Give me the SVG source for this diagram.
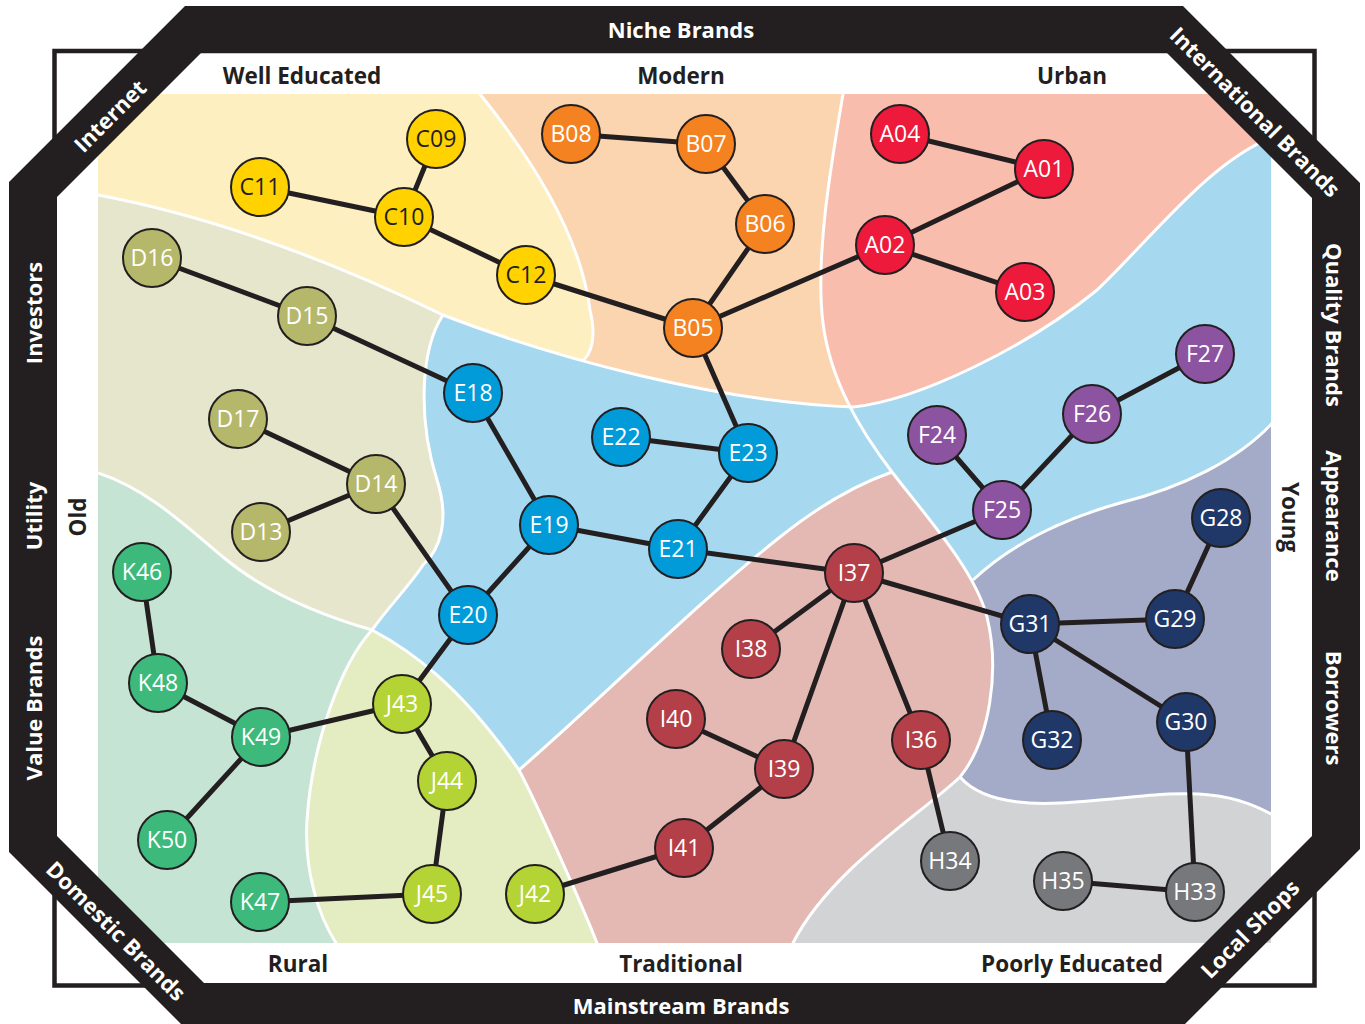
<svg xmlns="http://www.w3.org/2000/svg" width="1365" height="1024" viewBox="0 0 1365 1024">
<defs>
<clipPath id="area"><rect x="98" y="94" width="1173" height="849"/></clipPath>
<clipPath id="topc"><path d="M 80,190 L 98,195 C 220,218 340,265 443,315 C 560,360 720,402 853,407 C 920,400 1030,345 1097,290 C 1150,240 1210,160 1275,136 L 1290,125 L 1290,80 L 80,80 Z"/></clipPath>
<style>
.bd{fill:none;stroke:#fff;stroke-width:3}
.lbl{font-family:"Open Sans","Liberation Sans",sans-serif;font-weight:bold;font-size:22.5px;fill:#231f20;text-anchor:middle}
.bt{font-family:"Open Sans","Liberation Sans",sans-serif;font-weight:bold;font-size:22px;fill:#fff;text-anchor:middle}
.edges line{stroke:#231f20;stroke-width:5;stroke-linecap:round}
.node circle{stroke:#231f20;stroke-width:2}
.node text{font-family:"Open Sans","Liberation Sans",sans-serif;font-size:23px;fill:#fff;text-anchor:middle}
.nA circle{fill:#ed1a3b}.nB circle{fill:#f58220}.nC circle{fill:#ffd200}.nC text{fill:#231f20}
.nD circle{fill:#b5b86a}.nE circle{fill:#009bd8}.nF circle{fill:#8c53a0}.nG circle{fill:#1f3867}
.nH circle{fill:#77787b}.nI circle{fill:#b33f48}.nJ circle{fill:#b4d334}.nK circle{fill:#3dba7b}
</style>
</defs>
<rect width="1365" height="1024" fill="#fff"/>
<g id="regions" clip-path="url(#area)">
<rect x="90" y="90" width="1190" height="860" fill="#a6d9f0"/>
<path fill="#a4abc9" d="M 973,580 C 1010,545 1060,520 1120,503 C 1180,488 1240,460 1275,420 L 1290,420 L 1290,816 L 1275,816 C 1260,808 1240,798 1210,795 C 1170,790 1120,800 1060,803 C 1020,805 980,800 960,777 L 900,777 L 900,580 Z"/>
<path fill="#d1d3d4" d="M 960,777 C 980,800 1020,805 1060,803 C 1120,800 1170,790 1210,795 C 1240,798 1260,808 1275,816 L 1290,816 L 1290,960 L 700,960 L 700,777 Z"/>
<path fill="#e4b9b4" d="M 519,770 C 600,700 700,600 780,537 C 820,505 855,485 892,472 C 925,515 975,570 987,617 C 1000,670 990,740 960,777 C 920,815 830,870 793,943 L 786,960 L 604,960 L 597,943 C 580,900 535,800 519,770 Z"/>
<path fill="#c6e4d3" d="M 80,473 L 98,473 C 150,490 190,530 223,557 C 260,588 310,612 372,630 C 340,665 312,745 307,820 C 304,870 318,915 336,943 L 342,960 L 80,960 Z"/>
<path fill="#e4edc1" d="M 372,630 C 410,650 460,685 519,770 C 535,800 580,900 597,943 L 604,960 L 342,960 L 336,943 C 318,915 304,870 307,820 C 312,745 340,665 372,630 Z"/>
<path fill="#e6e6cc" d="M 80,80 L 470,80 L 443,315 C 420,350 418,420 437,480 C 450,520 440,550 423,565 C 410,585 390,605 372,630 C 310,612 260,588 223,557 C 190,530 150,490 98,473 L 80,473 Z"/>
<g clip-path="url(#topc)">
<rect x="80" y="80" width="1210" height="400" fill="#fbd4b0"/>
<path fill="#fdefbf" d="M 80,80 L 474,80 L 480,94 C 525,150 580,230 590,310 C 596,335 592,352 583,361 L 583,420 L 80,420 Z"/>
<path fill="#f9bdae" d="M 1290,80 L 845,80 L 843,94 C 830,170 815,260 823,323 C 830,380 860,430 892,472 L 1290,472 Z"/>
</g>
<path class="bd" d="M 80,190 L 98,195 C 220,218 340,265 443,315 C 560,360 720,402 853,407 C 920,400 1030,345 1097,290 C 1150,240 1210,160 1275,136"/>
<path class="bd" d="M 474,80 L 480,94 C 525,150 580,230 590,310 C 596,335 592,352 583,361"/>
<path class="bd" d="M 845,80 L 843,94 C 830,170 815,260 823,323 C 830,380 860,430 892,472 C 925,515 975,570 987,617 C 1000,670 990,740 960,777 C 920,815 830,870 793,943 L 786,960"/>
<path class="bd" d="M 443,315 C 420,350 418,420 437,480 C 450,520 440,550 423,565 C 410,585 390,605 372,630"/>
<path class="bd" d="M 80,468 L 98,473 C 150,490 190,530 223,557 C 260,588 310,612 372,630"/>
<path class="bd" d="M 372,630 C 340,665 312,745 307,820 C 304,870 318,915 336,943 L 342,960"/>
<path class="bd" d="M 372,630 C 410,650 460,685 519,770 C 535,800 580,900 597,943 L 604,960"/>
<path class="bd" d="M 519,770 C 600,700 700,600 780,537 C 820,505 855,485 892,472"/>
<path class="bd" d="M 973,580 C 1010,545 1060,520 1120,503 C 1180,488 1240,460 1275,420"/>
<path class="bd" d="M 960,777 C 980,800 1020,805 1060,803 C 1120,800 1170,790 1210,795 C 1240,798 1260,808 1275,816"/>
</g>
<g id="frame">
<rect x="54.5" y="51" width="1260" height="934.5" fill="none" stroke="#231f20" stroke-width="4.5"/>
<path fill="#231f20" fill-rule="evenodd" d="M 185,6 L 1183,6 L 1360,183 L 1360,849 L 1181,1028 L 185,1028 L 9,852 L 9,182 Z M 201,53 L 57,197 L 57,836 L 204,983 L 1165,983 L 1312,836 L 1312,198 L 1167,53 Z"/>
</g>
<g id="band-labels">
<text class="bt" x="681" y="38">Niche Brands</text>
<text class="bt" x="681" y="1014">Mainstream Brands</text>
<text class="bt" transform="translate(34,313) rotate(-90)" y="8">Investors</text>
<text class="bt" transform="translate(34,516) rotate(-90)" y="8">Utility</text>
<text class="bt" transform="translate(34,708) rotate(-90)" y="8">Value Brands</text>
<text class="bt" transform="translate(1334,325) rotate(90)" y="8">Quality Brands</text>
<text class="bt" transform="translate(1334,516) rotate(90)" y="8">Appearance</text>
<text class="bt" transform="translate(1334,708) rotate(90)" y="8">Borrowers</text>
<text class="bt" transform="translate(110,116) rotate(-45)" y="8">Internet</text>
<text class="bt" transform="translate(1255,112) rotate(45)" y="8">International Brands</text>
<text class="bt" transform="translate(116,931) rotate(45)" y="8">Domestic Brands</text>
<text class="bt" transform="translate(1250,929) rotate(-45)" y="8">Local Shops</text>
</g>
<g id="axis-labels">
<text class="lbl" x="302" y="84">Well Educated</text>
<text class="lbl" x="681" y="84">Modern</text>
<text class="lbl" x="1072" y="84">Urban</text>
<text class="lbl" x="298" y="972">Rural</text>
<text class="lbl" x="681" y="972">Traditional</text>
<text class="lbl" x="1072" y="972">Poorly Educated</text>
<text class="lbl" transform="translate(78,517) rotate(-90)" y="8">Old</text>
<text class="lbl" transform="translate(1290,517) rotate(90)" y="8">Young</text>
</g>
<g id="connectors" class="edges">
<line x1="436" y1="139" x2="404" y2="217"/>
<line x1="260" y1="187" x2="404" y2="217"/>
<line x1="404" y1="217" x2="526" y2="275"/>
<line x1="526" y1="275" x2="693" y2="328"/>
<line x1="571" y1="134" x2="706" y2="144"/>
<line x1="706" y1="144" x2="765" y2="224"/>
<line x1="765" y1="224" x2="693" y2="328"/>
<line x1="693" y1="328" x2="885" y2="245"/>
<line x1="900" y1="134" x2="1044" y2="169"/>
<line x1="1044" y1="169" x2="885" y2="245"/>
<line x1="885" y1="245" x2="1025" y2="292"/>
<line x1="693" y1="328" x2="748" y2="453"/>
<line x1="152" y1="258" x2="307" y2="316"/>
<line x1="307" y1="316" x2="473" y2="393"/>
<line x1="238" y1="419" x2="376" y2="484"/>
<line x1="261" y1="532" x2="376" y2="484"/>
<line x1="376" y1="484" x2="468" y2="615"/>
<line x1="473" y1="393" x2="549" y2="525"/>
<line x1="621" y1="437" x2="748" y2="453"/>
<line x1="748" y1="453" x2="678" y2="549"/>
<line x1="549" y1="525" x2="678" y2="549"/>
<line x1="549" y1="525" x2="468" y2="615"/>
<line x1="678" y1="549" x2="854" y2="573"/>
<line x1="468" y1="615" x2="402" y2="704"/>
<line x1="854" y1="573" x2="1002" y2="510"/>
<line x1="937" y1="435" x2="1002" y2="510"/>
<line x1="1002" y1="510" x2="1092" y2="414"/>
<line x1="1092" y1="414" x2="1205" y2="354"/>
<line x1="854" y1="573" x2="1030" y2="624"/>
<line x1="854" y1="573" x2="751" y2="649"/>
<line x1="854" y1="573" x2="784" y2="769"/>
<line x1="854" y1="573" x2="921" y2="740"/>
<line x1="1030" y1="624" x2="1175" y2="619"/>
<line x1="1175" y1="619" x2="1221" y2="518"/>
<line x1="1030" y1="624" x2="1052" y2="740"/>
<line x1="1030" y1="624" x2="1186" y2="722"/>
<line x1="1186" y1="722" x2="1195" y2="892"/>
<line x1="1063" y1="881" x2="1195" y2="892"/>
<line x1="921" y1="740" x2="950" y2="861"/>
<line x1="676" y1="719" x2="784" y2="769"/>
<line x1="784" y1="769" x2="684" y2="848"/>
<line x1="684" y1="848" x2="535" y2="894"/>
<line x1="402" y1="704" x2="447" y2="781"/>
<line x1="447" y1="781" x2="432" y2="894"/>
<line x1="432" y1="894" x2="260" y2="902"/>
<line x1="402" y1="704" x2="261" y2="737"/>
<line x1="142" y1="572" x2="158" y2="683"/>
<line x1="158" y1="683" x2="261" y2="737"/>
<line x1="261" y1="737" x2="167" y2="840"/>
</g>
<g id="A04" class="node nA"><circle cx="900" cy="134" r="29"/><text x="900" y="142">A04</text></g>
<g id="A01" class="node nA"><circle cx="1044" cy="169" r="29"/><text x="1044" y="177">A01</text></g>
<g id="A02" class="node nA"><circle cx="885" cy="245" r="29"/><text x="885" y="253">A02</text></g>
<g id="A03" class="node nA"><circle cx="1025" cy="292" r="29"/><text x="1025" y="300">A03</text></g>
<g id="B08" class="node nB"><circle cx="571" cy="134" r="29"/><text x="571" y="142">B08</text></g>
<g id="B07" class="node nB"><circle cx="706" cy="144" r="29"/><text x="706" y="152">B07</text></g>
<g id="B06" class="node nB"><circle cx="765" cy="224" r="29"/><text x="765" y="232">B06</text></g>
<g id="B05" class="node nB"><circle cx="693" cy="328" r="29"/><text x="693" y="336">B05</text></g>
<g id="C09" class="node nC"><circle cx="436" cy="139" r="29"/><text x="436" y="147">C09</text></g>
<g id="C11" class="node nC"><circle cx="260" cy="187" r="29"/><text x="260" y="195">C11</text></g>
<g id="C10" class="node nC"><circle cx="404" cy="217" r="29"/><text x="404" y="225">C10</text></g>
<g id="C12" class="node nC"><circle cx="526" cy="275" r="29"/><text x="526" y="283">C12</text></g>
<g id="D16" class="node nD"><circle cx="152" cy="258" r="29"/><text x="152" y="266">D16</text></g>
<g id="D15" class="node nD"><circle cx="307" cy="316" r="29"/><text x="307" y="324">D15</text></g>
<g id="D17" class="node nD"><circle cx="238" cy="419" r="29"/><text x="238" y="427">D17</text></g>
<g id="D14" class="node nD"><circle cx="376" cy="484" r="29"/><text x="376" y="492">D14</text></g>
<g id="D13" class="node nD"><circle cx="261" cy="532" r="29"/><text x="261" y="540">D13</text></g>
<g id="E18" class="node nE"><circle cx="473" cy="393" r="29"/><text x="473" y="401">E18</text></g>
<g id="E22" class="node nE"><circle cx="621" cy="437" r="29"/><text x="621" y="445">E22</text></g>
<g id="E23" class="node nE"><circle cx="748" cy="453" r="29"/><text x="748" y="461">E23</text></g>
<g id="E19" class="node nE"><circle cx="549" cy="525" r="29"/><text x="549" y="533">E19</text></g>
<g id="E21" class="node nE"><circle cx="678" cy="549" r="29"/><text x="678" y="557">E21</text></g>
<g id="E20" class="node nE"><circle cx="468" cy="615" r="29"/><text x="468" y="623">E20</text></g>
<g id="F27" class="node nF"><circle cx="1205" cy="354" r="29"/><text x="1205" y="362">F27</text></g>
<g id="F26" class="node nF"><circle cx="1092" cy="414" r="29"/><text x="1092" y="422">F26</text></g>
<g id="F24" class="node nF"><circle cx="937" cy="435" r="29"/><text x="937" y="443">F24</text></g>
<g id="F25" class="node nF"><circle cx="1002" cy="510" r="29"/><text x="1002" y="518">F25</text></g>
<g id="G28" class="node nG"><circle cx="1221" cy="518" r="29"/><text x="1221" y="526">G28</text></g>
<g id="G29" class="node nG"><circle cx="1175" cy="619" r="29"/><text x="1175" y="627">G29</text></g>
<g id="G31" class="node nG"><circle cx="1030" cy="624" r="29"/><text x="1030" y="632">G31</text></g>
<g id="G32" class="node nG"><circle cx="1052" cy="740" r="29"/><text x="1052" y="748">G32</text></g>
<g id="G30" class="node nG"><circle cx="1186" cy="722" r="29"/><text x="1186" y="730">G30</text></g>
<g id="H34" class="node nH"><circle cx="950" cy="861" r="29"/><text x="950" y="869">H34</text></g>
<g id="H35" class="node nH"><circle cx="1063" cy="881" r="29"/><text x="1063" y="889">H35</text></g>
<g id="H33" class="node nH"><circle cx="1195" cy="892" r="29"/><text x="1195" y="900">H33</text></g>
<g id="I37" class="node nI"><circle cx="854" cy="573" r="29"/><text x="854" y="581">I37</text></g>
<g id="I38" class="node nI"><circle cx="751" cy="649" r="29"/><text x="751" y="657">I38</text></g>
<g id="I40" class="node nI"><circle cx="676" cy="719" r="29"/><text x="676" y="727">I40</text></g>
<g id="I39" class="node nI"><circle cx="784" cy="769" r="29"/><text x="784" y="777">I39</text></g>
<g id="I36" class="node nI"><circle cx="921" cy="740" r="29"/><text x="921" y="748">I36</text></g>
<g id="I41" class="node nI"><circle cx="684" cy="848" r="29"/><text x="684" y="856">I41</text></g>
<g id="J43" class="node nJ"><circle cx="402" cy="704" r="29"/><text x="402" y="712">J43</text></g>
<g id="J44" class="node nJ"><circle cx="447" cy="781" r="29"/><text x="447" y="789">J44</text></g>
<g id="J45" class="node nJ"><circle cx="432" cy="894" r="29"/><text x="432" y="902">J45</text></g>
<g id="J42" class="node nJ"><circle cx="535" cy="894" r="29"/><text x="535" y="902">J42</text></g>
<g id="K46" class="node nK"><circle cx="142" cy="572" r="29"/><text x="142" y="580">K46</text></g>
<g id="K48" class="node nK"><circle cx="158" cy="683" r="29"/><text x="158" y="691">K48</text></g>
<g id="K49" class="node nK"><circle cx="261" cy="737" r="29"/><text x="261" y="745">K49</text></g>
<g id="K50" class="node nK"><circle cx="167" cy="840" r="29"/><text x="167" y="848">K50</text></g>
<g id="K47" class="node nK"><circle cx="260" cy="902" r="29"/><text x="260" y="910">K47</text></g>
</svg>
